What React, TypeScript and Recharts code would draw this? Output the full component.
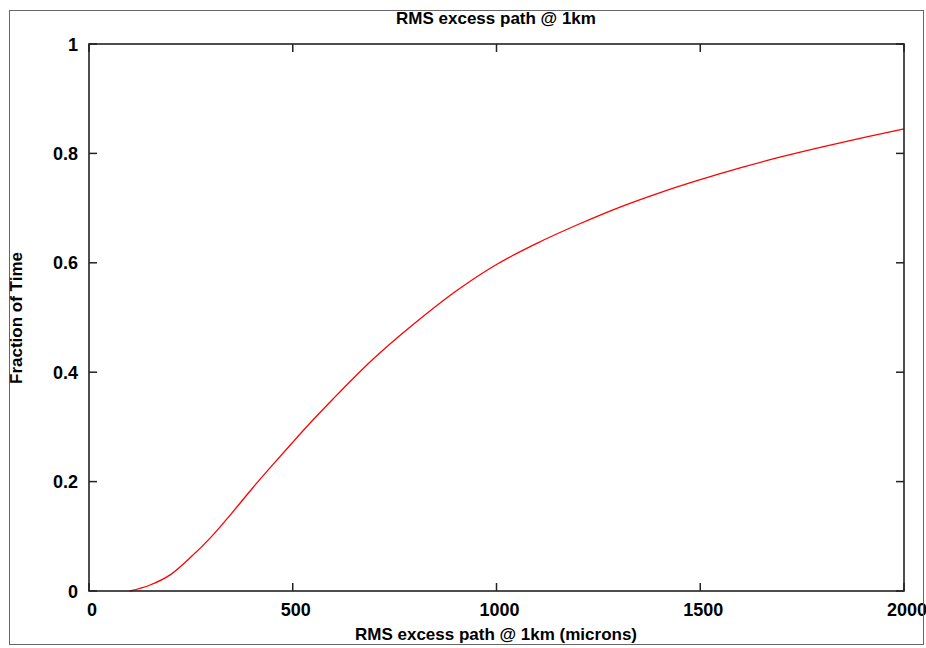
import React from 'react';
import { LineChart, Line, XAxis, YAxis } from 'recharts';

// RMS excess path (microns) vs cumulative fraction of time
const pathMicrons = [100, 150, 200, 250, 300, 350, 400, 450, 500, 550, 600, 650, 700, 750, 800, 900, 1000, 1100, 1200, 1300, 1400, 1500, 1600, 1700, 1800, 1900, 2000];
const fractionOfTime = [0, 0.011, 0.03, 0.062, 0.099, 0.142, 0.187, 0.23, 0.272, 0.313, 0.352, 0.39, 0.426, 0.459, 0.49, 0.548, 0.597, 0.636, 0.67, 0.701, 0.728, 0.752, 0.774, 0.794, 0.812, 0.829, 0.845];
const xTicks = [0, 500, 1000, 1500, 2000];
const yTicks = [0, 0.2, 0.4, 0.6, 0.8, 1];

const W = 926;
const H = 648;
const PL = 89;
const PR = 904;
const PT = 44;
const PB = 591;
const TICK = 8;
const Y_AXIS_W = 60;
const X_AXIS_H = 30;
const FONT = '"Liberation Sans", Arial, Helvetica, sans-serif';

const data = pathMicrons.map((x, i) => ({ x, y: fractionOfTime[i] }));

const renderXTick = (props: any) => {
  const { x, payload } = props;
  return (
    <g key={`xt-${payload.value}`}>
      <line x1={x} x2={x} y1={PB} y2={PB - TICK} stroke="#222" strokeWidth={1.5} />
      <line x1={x} x2={x} y1={PT} y2={PT + TICK} stroke="#222" strokeWidth={1.5} />
      <text x={x + 3} y={PB + 25} textAnchor="middle" fontFamily={FONT} fontWeight="bold" fontSize={18} fill="#000">
        {payload.value}
      </text>
    </g>
  );
};

const renderYTick = (props: any) => {
  const { y, payload } = props;
  return (
    <g key={`yt-${payload.value}`}>
      <line x1={PL} x2={PL + TICK} y1={y} y2={y} stroke="#222" strokeWidth={1.5} />
      <line x1={PR} x2={PR - TICK} y1={y} y2={y} stroke="#222" strokeWidth={1.5} />
      <text x={PL - 11} y={y + 6.5} textAnchor="end" fontFamily={FONT} fontWeight="bold" fontSize={18} fill="#000">
        {String(payload.value)}
      </text>
    </g>
  );
};

const App: React.FC = () => {
  return (
    <div style={{ position: 'absolute', left: 0, top: 0, width: W, height: H, background: '#fff' }}>
      <LineChart
        width={W}
        height={H}
        data={data}
        margin={{ top: PT, right: W - PR, bottom: H - PB - X_AXIS_H, left: PL - Y_AXIS_W }}
      >
        <XAxis
          dataKey="x"
          type="number"
          domain={[0, 2000]}
          ticks={xTicks}
          height={X_AXIS_H}
          axisLine={false}
          tickLine={false}
          tick={renderXTick}
          interval={0}
        />
        <YAxis
          type="number"
          domain={[0, 1]}
          ticks={yTicks}
          width={Y_AXIS_W}
          axisLine={false}
          tickLine={false}
          tick={renderYTick}
          interval={0}
        />
        <Line
          type="monotone"
          dataKey="y"
          stroke="#ff0000"
          strokeWidth={1.3}
          dot={false}
          isAnimationActive={false}
        />
      </LineChart>
      <svg
        width={W}
        height={H}
        style={{ position: 'absolute', left: 0, top: 0, pointerEvents: 'none' }}
      >
        <rect x={9.5} y={10.5} width={914} height={634} fill="none" stroke="#666" strokeWidth={1} />
        <rect x={PL} y={PT} width={PR - PL} height={PB - PT} fill="none" stroke="#222" strokeWidth={1.6} />
        <text x={496} y={24} textAnchor="middle" fontFamily={FONT} fontWeight="bold" fontSize={17} fill="#000">
          RMS excess path @ 1km
        </text>
        <text x={496} y={640} textAnchor="middle" fontFamily={FONT} fontWeight="bold" fontSize={17} fill="#000">
          RMS excess path @ 1km (microns)
        </text>
        <text
          x={0}
          y={0}
          transform="translate(22, 318) rotate(-90)"
          textAnchor="middle"
          fontFamily={FONT}
          fontWeight="bold"
          fontSize={17}
          fill="#000"
        >
          Fraction of Time
        </text>
      </svg>
    </div>
  );
};

export default App;
